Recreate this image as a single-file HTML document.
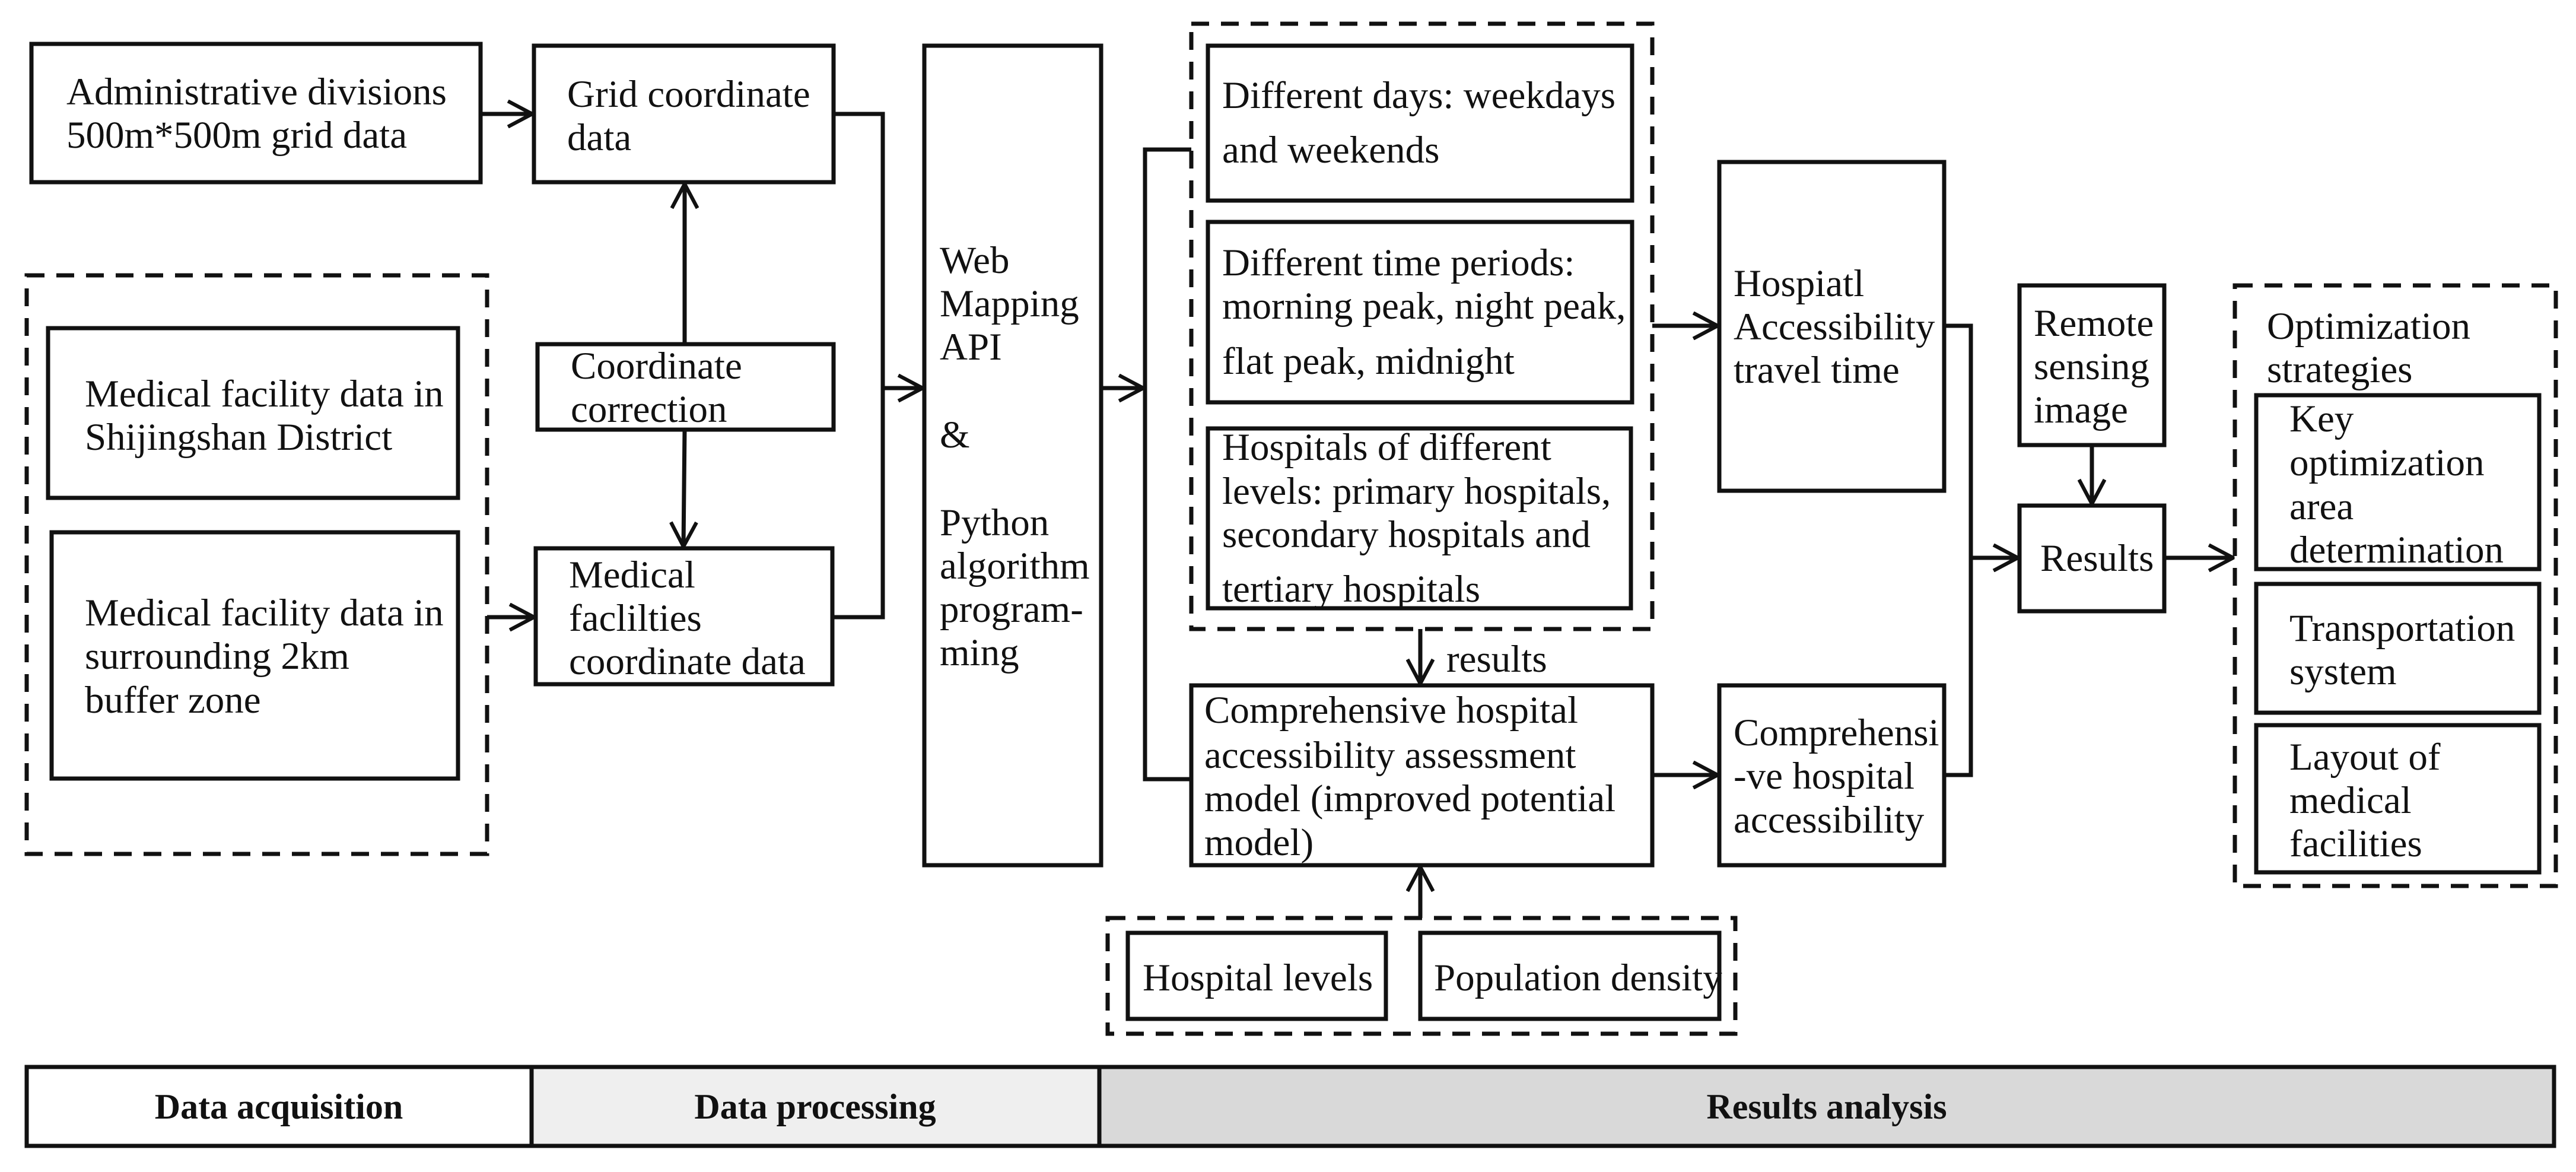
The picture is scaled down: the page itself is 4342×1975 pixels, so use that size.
<!DOCTYPE html>
<html><head><meta charset="utf-8"><style>
html,body{margin:0;padding:0;background:#fff;}
svg{display:block;}
text{font-family:"Liberation Serif",serif;font-size:65px;fill:#111;}
.b{font-weight:bold;font-size:60px;}
</style></head><body>
<svg width="4342" height="1975" viewBox="0 0 4342 1975" xmlns="http://www.w3.org/2000/svg">
<defs>
<marker id="a" viewBox="0 0 20 20" refX="19" refY="10" markerWidth="48" markerHeight="48" markerUnits="userSpaceOnUse" orient="auto">
<path d="M2 1 L19 10 L2 19" fill="none" stroke="#111" stroke-width="2.6"/>
</marker>
</defs>
<g fill="none" stroke="#111" stroke-width="7">
<rect x="53" y="74" width="757" height="233"/>
<rect x="900" y="77" width="505" height="230"/>
<rect x="81" y="553" width="691" height="286"/>
<rect x="87" y="897" width="685" height="415"/>
<rect x="906" y="580" width="499" height="144"/>
<rect x="903" y="924" width="500" height="229"/>
<rect x="1558" y="77" width="298" height="1381"/>
<rect x="2036" y="77" width="715" height="261"/>
<rect x="2036" y="374" width="715" height="304"/>
<rect x="2036" y="722" width="713" height="303"/>
<rect x="2008" y="1155" width="777" height="303"/>
<rect x="1901" y="1572" width="435" height="145"/>
<rect x="2394" y="1572" width="504" height="145"/>
<rect x="2898" y="273" width="379" height="554"/>
<rect x="2898" y="1155" width="379" height="303"/>
<rect x="3404" y="481" width="244" height="269"/>
<rect x="3404" y="852" width="244" height="178"/>
<rect x="3803" y="666" width="477" height="293"/>
<rect x="3803" y="984" width="477" height="217"/>
<rect x="3803" y="1222" width="477" height="248"/>
</g>
<g fill="none" stroke="#111" stroke-width="7" stroke-dasharray="30 20">
<rect x="45" y="464" width="776" height="975"/>
<rect x="2008" y="40" width="777" height="1020"/>
<rect x="1867" y="1547" width="1058" height="195"/>
<rect x="3767" y="481" width="541" height="1012"/>
</g>
<rect x="896" y="1798" width="957" height="133" fill="#efefef"/>
<rect x="1853" y="1798" width="2452" height="133" fill="#d9d9d9"/>
<g fill="none" stroke="#111" stroke-width="7">
<rect x="45" y="1798" width="4260" height="133"/>
<line x1="896" y1="1798" x2="896" y2="1931"/>
<line x1="1853" y1="1798" x2="1853" y2="1931"/>
</g>
<g fill="none" stroke="#111" stroke-width="7">
<line x1="810" y1="192" x2="897" y2="192" marker-end="url(#a)"/>
<polyline points="1405,192 1488,192 1488,1040 1403,1040"/>
<line x1="1488" y1="654" x2="1555" y2="654" marker-end="url(#a)"/>
<line x1="1154" y1="580" x2="1154" y2="310" marker-end="url(#a)"/>
<line x1="1154" y1="724" x2="1152" y2="921" marker-end="url(#a)"/>
<line x1="821" y1="1040" x2="900" y2="1040" marker-end="url(#a)"/>
<line x1="1856" y1="654" x2="1927" y2="654" marker-end="url(#a)"/>
<polyline points="2008,252 1930,252 1930,1313 2008,1313"/>
<line x1="2785" y1="549" x2="2895" y2="549" marker-end="url(#a)"/>
<line x1="2785" y1="1306" x2="2895" y2="1306" marker-end="url(#a)"/>
<line x1="2394" y1="1060" x2="2394" y2="1152" marker-end="url(#a)"/>
<line x1="2394" y1="1547" x2="2394" y2="1461" marker-end="url(#a)"/>
<polyline points="3277,549 3322,549 3322,1306 3277,1306"/>
<line x1="3322" y1="940" x2="3401" y2="940" marker-end="url(#a)"/>
<line x1="3526" y1="750" x2="3526" y2="849" marker-end="url(#a)"/>
<line x1="3648" y1="940" x2="3764" y2="940" marker-end="url(#a)"/>
</g>
<text x="112" y="176">Administrative divisions</text>
<text x="112" y="249">500m*500m grid data</text>
<text x="956" y="180">Grid coordinate</text>
<text x="956" y="253">data</text>
<text x="143" y="685">Medical facility data in</text>
<text x="143" y="758">Shijingshan District</text>
<text x="143" y="1054">Medical facility data in</text>
<text x="143" y="1127">surrounding 2km</text>
<text x="143" y="1201">buffer zone</text>
<text x="962" y="638">Coordinate</text>
<text x="962" y="711">correction</text>
<text x="959" y="990">Medical</text>
<text x="959" y="1063">faclilties</text>
<text x="959" y="1136">coordinate data</text>
<text x="1584" y="460">Web</text>
<text x="1584" y="533">Mapping</text>
<text x="1584" y="606">API</text>
<text x="1584" y="754">&amp;</text>
<text x="1584" y="902">Python</text>
<text x="1584" y="975">algorithm</text>
<text x="1584" y="1048">program-</text>
<text x="1584" y="1121">ming</text>
<text x="2060" y="182">Different days: weekdays</text>
<text x="2060" y="274">and weekends</text>
<text x="2060" y="464">Different time periods:</text>
<text x="2060" y="537">morning peak, night peak,</text>
<text x="2060" y="630">flat peak, midnight</text>
<text x="2060" y="775">Hospitals of different</text>
<text x="2060" y="849">levels: primary hospitals,</text>
<text x="2060" y="922">secondary hospitals and</text>
<text x="2060" y="1014">tertiary hospitals</text>
<text x="2438" y="1132">results</text>
<text x="2030" y="1218">Comprehensive hospital</text>
<text x="2030" y="1294">accessibility assessment</text>
<text x="2030" y="1367">model (improved potential</text>
<text x="2030" y="1441">model)</text>
<text x="1926" y="1669">Hospital levels</text>
<text x="2417" y="1669">Population density</text>
<text x="2922" y="499">Hospiatl</text>
<text x="2922" y="572">Accessibility</text>
<text x="2922" y="645">travel time</text>
<text x="2922" y="1256">Comprehensi</text>
<text x="2922" y="1329">-ve hospital</text>
<text x="2922" y="1403">accessibility</text>
<text x="3428" y="566">Remote</text>
<text x="3428" y="639">sensing</text>
<text x="3428" y="712">image</text>
<text x="3439" y="962">Results</text>
<text x="3821" y="571">Optimization</text>
<text x="3821" y="644">strategies</text>
<text x="3859" y="727">Key</text>
<text x="3859" y="801">optimization</text>
<text x="3859" y="875">area</text>
<text x="3859" y="948">determination</text>
<text x="3859" y="1080">Transportation</text>
<text x="3859" y="1153">system</text>
<text x="3859" y="1297">Layout of</text>
<text x="3859" y="1370">medical</text>
<text x="3859" y="1443">facilities</text>
<text class="b" x="470" y="1885" text-anchor="middle">Data acquisition</text>
<text class="b" x="1374" y="1885" text-anchor="middle">Data processing</text>
<text class="b" x="3079" y="1885" text-anchor="middle">Results analysis</text>
</svg>
</body></html>
